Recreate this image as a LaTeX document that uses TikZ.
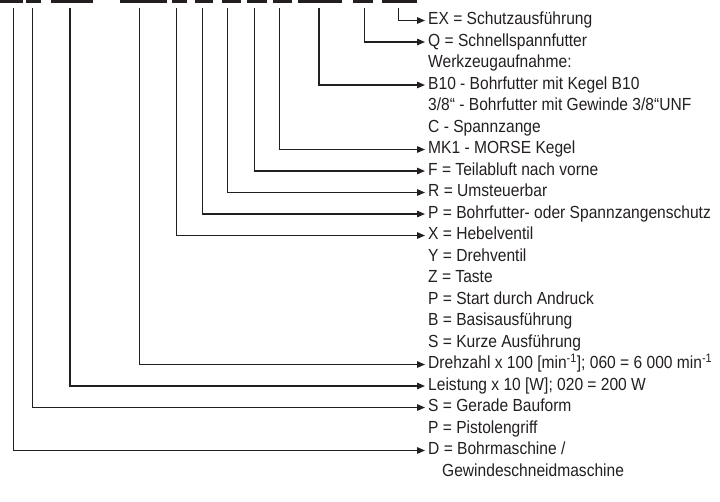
\documentclass[tikz,border=0pt]{standalone}
\usepackage{fontspec}
\setmainfont[FakeStretch=0.89]{Liberation Sans}
\usetikzlibrary{arrows.meta, positioning}
\definecolor{strich}{HTML}{231F20}

\tikzset{
  balken/.style={fill=strich, inner sep=0pt, minimum height=2.5pt, anchor=north west},
  eintrag/.style={anchor=west, inner sep=0pt, text height=12pt, text depth=3.5pt,
    font=\fontsize{17.5}{19}\selectfont, text=strich},
  pfeil/.style={draw=strich, line width=1.4pt, shorten >=3pt,
    -{Triangle[length=8pt,width=6.5pt]}},
}

\begin{document}
\begin{tikzpicture}[x=1pt,y=-1pt]
  \useasboundingbox (0,0) rectangle (720,501);
  % Typenschluessel (oben abgeschnitten)
  \foreach \l/\w [count=\i] in {0/23, 26/15, 51/42, 120/47, 172/15, 195/18,
      222/19, 247/20, 273/19, 298/44, 353/20, 382/35}
    \node[balken, minimum width=\w pt] (k\i) at (\l,0) {};
  % Legende
  \node[eintrag] (ex)  at (428,20.5)  {EX = Schutzausführung};
  \node[eintrag] (q)   at (428,42)    {Q = Schnellspannfutter};
  \node[eintrag] (wz)  at (428,63.5)  {Werkzeugaufnahme:};
  \node[eintrag] (b10) at (428,85)    {B10 - Bohrfutter mit Kegel B10};
  \node[eintrag] (gw)  at (428,106.5) {3/8“ - Bohrfutter mit Gewinde 3/8“UNF};
  \node[eintrag] (c)   at (428,128)   {C - Spannzange};
  \node[eintrag] (mk)  at (428,149.5) {MK1 - MORSE Kegel};
  \node[eintrag] (f)   at (428,171)   {F = Teilabluft nach vorne};
  \node[eintrag] (r)   at (428,192.5) {R = Umsteuerbar};
  \node[eintrag] (p)   at (428,214)   {P = Bohrfutter- oder Spannzangenschutz};
  \node[eintrag] (x)   at (428,235.5) {X = Hebelventil};
  \node[eintrag] (y)   at (428,257)   {Y = Drehventil};
  \node[eintrag] (z)   at (428,278.5) {Z = Taste};
  \node[eintrag] (ps)  at (428,300)   {P = Start durch Andruck};
  \node[eintrag] (ba)  at (428,321.5) {B = Basisausführung};
  \node[eintrag] (ku)  at (428,343)   {S = Kurze Ausführung};
  \node[eintrag] (dz)  at (428,364.5) {Drehzahl x 100 [min\textsuperscript{-1}]; 060 = 6 000 min\textsuperscript{-1}};
  \node[eintrag] (lei) at (428,386)   {Leistung x 10 [W]; 020 = 200 W};
  \node[eintrag] (sg)  at (428,407.5) {S = Gerade Bauform};
  \node[eintrag] (pg)  at (428,429)   {P = Pistolengriff};
  \node[eintrag] (d)   at (428,450.5) {D = Bohrmaschine /};
  \node[eintrag] (gs)  at (442,472.5) {Gewindeschneidmaschine};
  % Verbindungen
  \foreach \x/\ziel [count=\i] in {13.3/d, 32.3/sg, 70/lei, 139.3/dz, 176.7/x,
      202.3/p, 227.7/r, 254.3/f, 279.3/mk, 319/b10, 364.3/q, 398.3/ex} {
    \coordinate (a\i) at (\x,8);
    \draw[pfeil] (a\i) |- (\ziel.west);
  }
\end{tikzpicture}
\end{document}
